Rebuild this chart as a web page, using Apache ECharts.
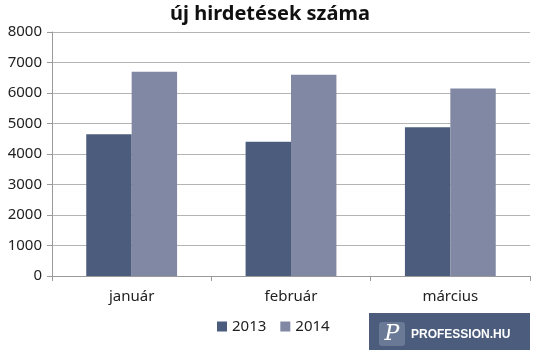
<!DOCTYPE html>
<html>
<head>
<meta charset="utf-8">
<script src="https://cdn.jsdelivr.net/npm/echarts@6/dist/echarts.min.js"></script>
<style>
  html, body { margin: 0; padding: 0; background: #fff; }
  #chart { width: 540px; height: 350px; }
</style>
</head>
<body>
<div id="chart"></div>
<script>
// adatok
const categories = ['január', 'február', 'március']
const values2013 = [4650, 4400, 4880]
const values2014 = [6700, 6600, 6150]
const yTicks = [0, 1000, 2000, 3000, 4000, 5000, 6000, 7000, 8000]

const font = '"Noto Sans", "Open Sans", sans-serif'
const chart = echarts.init(document.getElementById('chart'))

chart.setOption({
  animation: false,
  title: {
    text: 'új hirdetések száma',
    left: 'center',
    top: -1,
    textStyle: { fontFamily: font, fontSize: 20, fontWeight: 'bold', color: '#111' }
  },
  grid: { left: 52, right: 10, top: 32, bottom: 74, containLabel: false },
  legend: {
    data: ['2013', '2014'],
    left: 212,
    top: 314,
    itemWidth: 10,
    itemHeight: 10,
    itemGap: 14,
    icon: 'rect',
    textStyle: { fontFamily: font, fontSize: 15, color: '#222' }
  },
  xAxis: {
    type: 'category',
    data: categories,
    axisLine: { lineStyle: { color: '#999' } },
    axisTick: { show: true, length: 5, lineStyle: { color: '#999' } },
    axisLabel: { fontFamily: font, fontSize: 15, color: '#222', margin: 13 }
  },
  yAxis: {
    type: 'value',
    min: yTicks[0],
    max: yTicks[yTicks.length - 1],
    interval: 1000,
    axisLine: { show: true, lineStyle: { color: '#999' } },
    axisTick: { show: true, length: 5, inside: false, lineStyle: { color: '#999' } },
    splitLine: { lineStyle: { color: '#b4b4b4' } },
    axisLabel: { fontFamily: font, fontSize: 15, color: '#222', margin: 10, formatter: v => String(v) }
  },
  series: [
    {
      name: '2013', type: 'bar', data: values2013,
      barGap: 0, barCategoryGap: '43%',
      itemStyle: { color: '#4b5c7c' }
    },
    {
      name: '2014', type: 'bar', data: values2014,
      itemStyle: { color: '#8088a3' }
    }
  ],
  graphic: [
    {
      type: 'group', left: 369, top: 313,
      children: [
        { type: 'rect', shape: { x: 0, y: 0, width: 161, height: 37 }, style: { fill: '#4b5c7c' } },
        { type: 'rect', shape: { x: 10, y: 9, width: 26, height: 24, r: 3 }, style: { fill: '#6a7a96' } },
        { type: 'text', x: 23, y: 21, style: { text: 'P', fill: '#fff', font: 'italic 22px "DejaVu Serif", serif', align: 'center', verticalAlign: 'middle' } },
        { type: 'text', x: 42, y: 22, style: { text: 'PROFESSION.HU', fill: '#fff', font: 'bold 12px "Liberation Sans", sans-serif', verticalAlign: 'middle' } }
      ]
    }
  ]
})
</script>
</body>
</html>
